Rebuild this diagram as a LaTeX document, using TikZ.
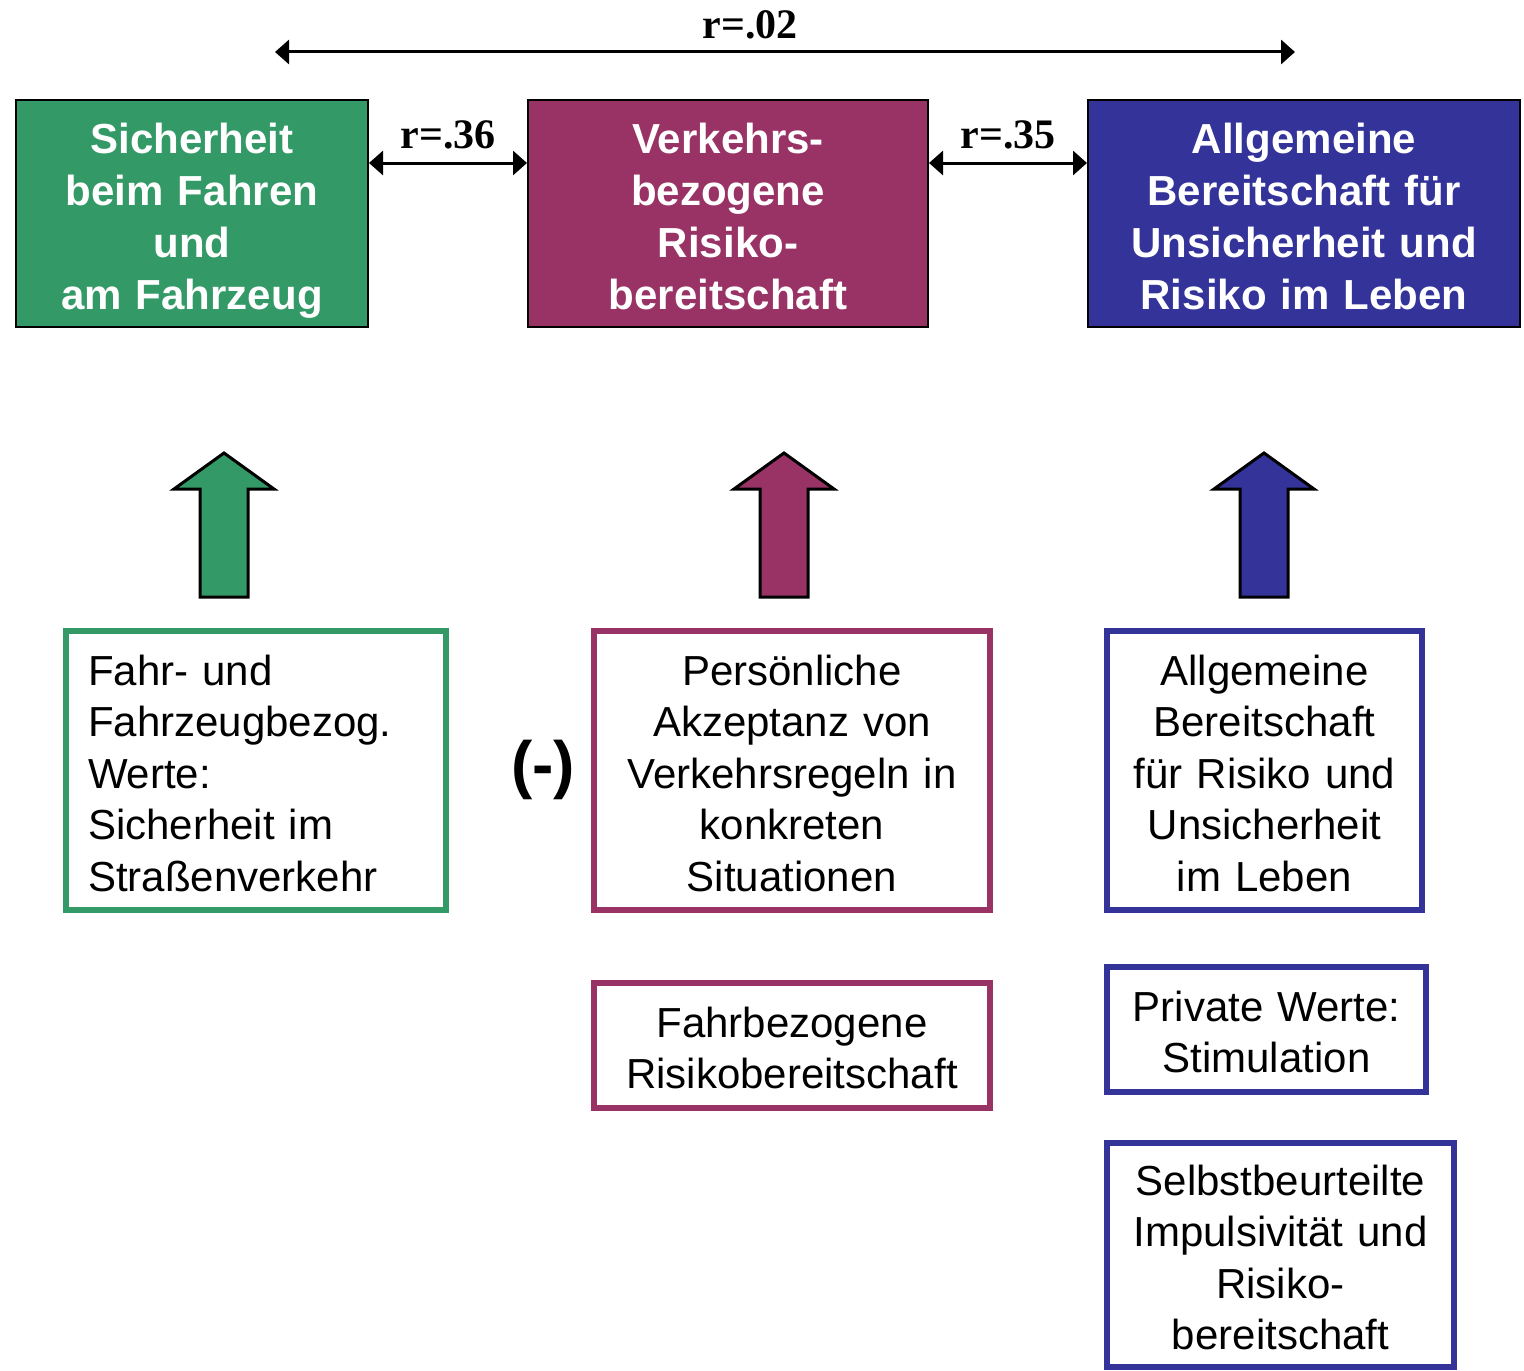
\documentclass[tikz,border=0pt]{standalone}
\usepackage{fontspec}
\setmainfont{Liberation Sans}
\newfontfamily\timesfont{Liberation Serif}
\usetikzlibrary{arrows.meta}

\definecolor{gruen}{HTML}{339966}
\definecolor{weinrot}{HTML}{993366}
\definecolor{blau}{HTML}{333399}

\newcommand{\oben}{\rule{0pt}{22pt}}
\newcommand{\unten}{\rule[-4.5pt]{0pt}{4.5pt}}

\tikzset{
  kopf/.style={draw=black, line width=1pt, text=white, font=\fontsize{21}{26}\selectfont\bfseries,
    align=center, minimum height=113.5pt, inner sep=0pt,
    execute at begin node=\oben, execute at end node=\unten},
  feld/.style={draw=#1, line width=3pt, font=\fontsize{21}{25.75}\selectfont, align=center, inner sep=0pt,
    execute at begin node=\oben, execute at end node=\unten},
  korr/.style={line width=1.5pt, {Triangle[length=7pt,width=12pt]}-{Triangle[length=7pt,width=12pt]}},
  rwert/.style={font=\fontsize{21}{25}\timesfont\bfseries},
}

\begin{document}
\begin{tikzpicture}[x=0.5pt,y=-0.5pt]
        \useasboundingbox (0,0) rectangle (1524,1370);
        % obere Reihe
        \node[kopf, fill=gruen, text width=176pt] (sicher) at (192,213.5) {Sicherheit\\beim Fahren\\und\\am Fahrzeug};
        \node[kopf, fill=weinrot, text width=200pt] (verkehr) at (728,213.5) {Verkehrs-\\bezogene\\Risiko-\\bereitschaft};
        \node[kopf, fill=blau, text width=216pt] (allg) at (1304,213.5) {Allgemeine\\Bereitschaft für\\Unsicherheit und\\Risiko im Leben};
        % Korrelationen
        \draw[korr] (sicher.east |- 0,163) -- (verkehr.west |- 0,163) node[midway, above=3pt, rwert] {r=.36};
        \draw[korr] (verkehr.east |- 0,163) -- (allg.west |- 0,163) node[midway, above=3pt, rwert] {r=.35};
        \coordinate (links) at (275,52);
        \coordinate (rechts) at (1295,52);
        \draw[korr] (links) -- (rechts) node[pos=0.466, above=2.5pt, rwert] {r=.02};
        % Blockpfeile
        \foreach \cx/\farbe in {224/gruen,784/weinrot,1264/blau}
            \draw[fill=\farbe, line width=1.5pt] (\cx,453) -- (\cx+50,489) -- (\cx+24,489) -- (\cx+24,597)
                -- (\cx-24,597) -- (\cx-24,489) -- (\cx-50,489) -- cycle;
        % untere Reihe
        \node[feld=gruen, align=left, text width=168pt, minimum height=139.5pt, inner xsep=11pt] (werte) at (256,770.5)
            {Fahr- und\\Fahrzeugbezog.\\Werte:\\Sicherheit im\\Straßenverkehr};
        \node[font=\fontsize{32}{36}\selectfont\bfseries] (minus) at (543,770) {(-)};
        \node[feld=weinrot, text width=198pt, minimum height=139.5pt] (akzeptanz) at (792,770.5)
            {Persönliche\\Akzeptanz von\\Verkehrsregeln in\\konkreten\\Situationen};
        \node[feld=blau, text width=157.5pt, minimum height=139.5pt] (bereit) at (1264.5,770.5)
            {Allgemeine\\Bereitschaft\\für Risiko und\\Unsicherheit\\im Leben};
        \node[feld=weinrot, text width=198pt, minimum height=62.5pt] (fahrrisiko) at (792,1045.5)
            {Fahrbezogene\\Risikobereitschaft};
        \node[feld=blau, text width=159.5pt, minimum height=62.5pt] (privat) at (1266.5,1029.5)
            {Private Werte:\\Stimulation};
        \node[feld=blau, text width=173.5pt, minimum height=112pt] (impuls) at (1280.5,1255)
            {Selbstbeurteilte\\Impulsivität und\\Risiko-\\bereitschaft};
\end{tikzpicture}
\end{document}
